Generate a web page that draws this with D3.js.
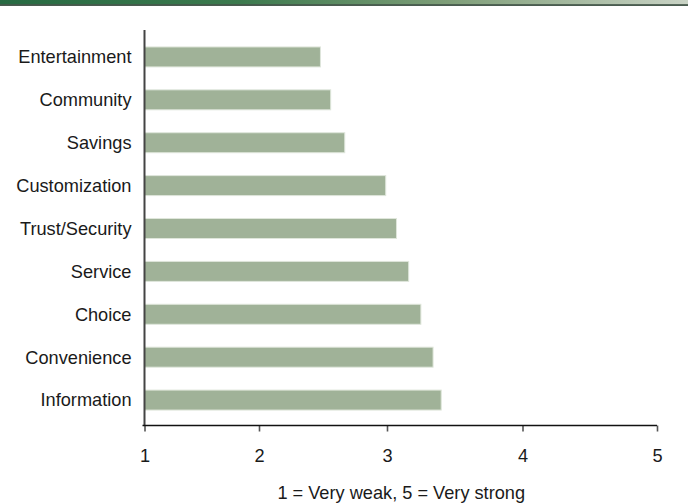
<!DOCTYPE html>
<html>
<head>
<meta charset="utf-8">
<script src="https://cdn.jsdelivr.net/npm/d3@7"></script>
<style>
  html, body { margin: 0; padding: 0; background: #fff; }
  svg { display: block; font-family: "Liberation Sans", Arial, Helvetica, sans-serif; }
</style>
</head>
<body>
<svg id="chart" width="688" height="504"></svg>
<script>
// Attributes, top to bottom, with their mean rating
const categories = ["Entertainment", "Community", "Savings", "Customization", "Trust/Security",
                    "Service", "Choice", "Convenience", "Information"];
const ratings = [2.48, 2.56, 2.67, 2.99, 3.07, 3.16, 3.25, 3.34, 3.40];
const tickValues = [1, 2, 3, 4, 5];
const axisTitle = "1 = Very weak, 5 = Very strong";

const svg = d3.select("#chart");
const W = 688, H = 504;
const fontSize = 18.2;

// Header band
const defs = svg.append("defs");
const grad = defs.append("linearGradient").attr("id", "band").attr("x1", 0).attr("x2", 1);
[[0, "#276a42"], [0.35, "#3c7a4e"], [0.65, "#7e9e78"], [1, "#c9d3c5"]].forEach(([o, c]) =>
  grad.append("stop").attr("offset", o).attr("stop-color", c));
svg.append("rect").attr("x", 0).attr("y", 0).attr("width", W).attr("height", 4.5).attr("fill", "url(#band)");
svg.append("rect").attr("x", 0).attr("y", 4.3).attr("width", W).attr("height", 1.5).attr("fill", "#1f3526");

// Plot frame
const plotLeft = 144.5, plotRight = 657, plotTop = 30, plotBottom = 425.5;

// The value axis has its graduations at uneven spacing
const x = d3.scaleLinear()
  .domain(tickValues)
  .range([plotLeft, 259, 387, 522.5, plotRight]);

const y = d3.scaleBand()
  .domain(categories)
  .range([plotTop, plotBottom + 1.5])
  .paddingInner(0.534)
  .paddingOuter(0.395);

// Bars
svg.append("g").selectAll("rect")
  .data(categories.map((c, i) => ({ c, v: ratings[i] })))
  .join("rect")
  .attr("x", x(1))
  .attr("y", d => y(d.c))
  .attr("width", d => x(d.v) - x(1))
  .attr("height", y.bandwidth())
  .attr("fill", "#a0b298")
  .attr("stroke", "#dfe6db")
  .attr("stroke-width", 1);

// Category labels
svg.append("g").selectAll("text")
  .data(categories)
  .join("text")
  .attr("x", plotLeft - 13)
  .attr("y", d => y(d) + y.bandwidth() / 2)
  .attr("dy", "0.35em")
  .attr("text-anchor", "end")
  .attr("font-size", fontSize)
  .attr("fill", "#1a1a1a")
  .text(d => d);

// Category axis line
svg.append("line")
  .attr("x1", plotLeft).attr("x2", plotLeft)
  .attr("y1", plotTop).attr("y2", plotBottom)
  .attr("stroke", "#444").attr("stroke-width", 2);

// Value axis
const xAxis = svg.append("g")
  .attr("transform", `translate(0,${plotBottom})`)
  .call(d3.axisBottom(x).tickValues(tickValues).tickFormat(d3.format("d")).tickSize(6).tickSizeOuter(0));
xAxis.select(".domain").remove();
xAxis.append("line")
  .attr("x1", plotLeft - 2).attr("x2", plotRight)
  .attr("stroke", "#111").attr("stroke-width", 1.6);
xAxis.selectAll(".tick line").attr("stroke", "#555").attr("stroke-width", 1.6);
xAxis.selectAll(".tick text")
  .attr("font-size", fontSize)
  .attr("font-family", "\"Liberation Sans\", Arial, sans-serif")
  .attr("fill", "#1a1a1a")
  .attr("y", 30.5)
  .attr("dy", "0.35em");

// Scale description
svg.append("text")
  .attr("x", (plotLeft + plotRight) / 2 + 0.5)
  .attr("y", 498.5)
  .attr("text-anchor", "middle")
  .attr("font-size", fontSize)
  .attr("fill", "#1a1a1a")
  .text(axisTitle);
</script>
</body>
</html>
